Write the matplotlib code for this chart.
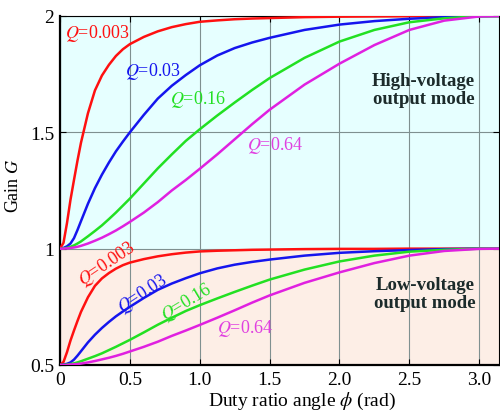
import matplotlib
matplotlib.use("Agg")
import matplotlib.pyplot as plt

plt.rcParams["font.family"] = ["Liberation Serif", "DejaVu Serif"]
plt.rcParams["mathtext.fontset"] = "stix"

# duty ratio angle (rad)
phi = [0, 0.025, 0.05, 0.075, 0.1, 0.125, 0.15, 0.2, 0.25, 0.3, 0.35, 0.4, 0.45, 0.5,
       0.6, 0.7, 0.8, 0.9, 1.0, 1.125, 1.25, 1.375, 1.5, 1.75, 2.0, 2.25, 2.5, 2.75,
       3.0, 3.1416]

# high-voltage output mode
high_q0003 = [1.0, 1.025, 1.11, 1.21, 1.295, 1.378, 1.455, 1.582, 1.68, 1.744, 1.79,
              1.828, 1.857, 1.879, 1.91, 1.934, 1.952, 1.965, 1.975, 1.981, 1.986,
              1.989, 1.991, 1.995, 1.997, 1.998, 1.999, 2.0, 2.0, 2.0]
high_q003 = [1.0, 1.003, 1.01, 1.022, 1.045, 1.08, 1.118, 1.193, 1.26, 1.318, 1.37,
             1.418, 1.46, 1.5, 1.575, 1.645, 1.70, 1.746, 1.788, 1.83, 1.862, 1.886,
             1.906, 1.94, 1.963, 1.978, 1.988, 1.995, 1.999, 2.0]
high_q016 = [1.0, 1.001, 1.003, 1.008, 1.014, 1.022, 1.031, 1.053, 1.076, 1.10, 1.127,
             1.155, 1.185, 1.215, 1.28, 1.345, 1.405, 1.463, 1.513, 1.572, 1.628,
             1.682, 1.733, 1.82, 1.89, 1.94, 1.973, 1.99, 1.999, 2.0]
high_q064 = [1.0, 1.0, 1.001, 1.003, 1.005, 1.008, 1.012, 1.022, 1.034, 1.047, 1.062,
             1.078, 1.096, 1.115, 1.155, 1.2, 1.25, 1.295, 1.343, 1.405, 1.47, 1.535,
             1.597, 1.705, 1.795, 1.875, 1.94, 1.98, 1.998, 2.0]

# low-voltage output mode
low_q0003 = [0.5, 0.513, 0.555, 0.605, 0.648, 0.689, 0.728, 0.791, 0.84, 0.872, 0.895,
             0.914, 0.929, 0.94, 0.955, 0.967, 0.976, 0.983, 0.988, 0.991, 0.993,
             0.995, 0.996, 0.998, 0.999, 0.999, 1.0, 1.0, 1.0, 1.0]
low_q003 = [0.5, 0.502, 0.505, 0.511, 0.523, 0.54, 0.559, 0.597, 0.63, 0.659, 0.685,
            0.709, 0.73, 0.75, 0.788, 0.823, 0.85, 0.873, 0.894, 0.915, 0.931, 0.943,
            0.953, 0.97, 0.982, 0.989, 0.994, 0.998, 1.0, 1.0]
low_q016 = [0.5, 0.5, 0.502, 0.504, 0.507, 0.511, 0.516, 0.527, 0.538, 0.55, 0.564,
            0.578, 0.593, 0.608, 0.64, 0.673, 0.703, 0.732, 0.757, 0.786, 0.814, 0.841,
            0.867, 0.91, 0.945, 0.97, 0.987, 0.995, 1.0, 1.0]
low_q064 = [0.5, 0.5, 0.5, 0.502, 0.503, 0.504, 0.506, 0.511, 0.517, 0.524, 0.531,
            0.539, 0.548, 0.558, 0.578, 0.6, 0.625, 0.648, 0.672, 0.703, 0.735, 0.768,
            0.799, 0.853, 0.898, 0.938, 0.97, 0.99, 0.999, 1.0]

colors = ["#ff1010", "#1515ee", "#22e022", "#e020e0"]
text_colors = ["#ff1010", "#1515ee", "#22e022", "#e040e0"]

x_ticks = [0, 0.5, 1.0, 1.5, 2.0, 2.5, 3.0]
x_tick_labels = ["0", "0.5", "1.0", "1.5", "2.0", "2.5", "3.0"]
y_ticks = [0.5, 1, 1.5, 2]
y_tick_labels = ["0.5", "1", "1.5", "2"]

fig = plt.figure(figsize=(5, 4.14), dpi=100)
ax = fig.add_axes([0.12, 0.116, 0.878, 0.843])

# background regions
ax.axhspan(1, 2, color="#e6ffff", zorder=0, lw=0)
ax.axhspan(0.5, 1, color="#fdeee6", zorder=0, lw=0)

highs = [high_q0003, high_q003, high_q016, high_q064]
lows = [low_q0003, low_q003, low_q016, low_q064]
for h, l, c in zip(highs, lows, colors):
    ax.plot(phi, h, color=c, lw=1.8, zorder=3, solid_capstyle="round",
            solid_joinstyle="round")
    ax.plot(phi, l, color=c, lw=1.8, zorder=3, solid_capstyle="round",
            solid_joinstyle="round")

ax.set_xlim(0, 3.1416)
ax.set_ylim(0.5, 2)
ax.set_xticks(x_ticks)
ax.set_xticklabels(x_tick_labels)
ax.set_yticks(y_ticks)
ax.set_yticklabels(y_tick_labels)
ax.tick_params(direction="in", length=4, width=0.8, top=True, right=True,
               labelsize=14, pad=4)
ax.grid(True, color="#7f9090", lw=0.8, zorder=1)
ax.set_axisbelow(True)

for side in ["left", "bottom"]:
    ax.spines[side].set_linewidth(1.6)
for side in ["top", "right"]:
    ax.spines[side].set_linewidth(0.8)

# curve labels, high-voltage
fs = 13
ax.text(0.036, 1.93, "$Q$=0.003", color=text_colors[0], fontsize=fs, va="center")
ax.text(0.464, 1.767, "$Q$=0.03", color=text_colors[1], fontsize=fs, va="center")
ax.text(0.79, 1.647, "$Q$=0.16", color=text_colors[2], fontsize=fs, va="center")
ax.text(1.336, 1.448, "$Q$=0.64", color=text_colors[3], fontsize=fs, va="center")

# curve labels, low-voltage
ax.text(0.336, 0.936, "$Q$=0.003", color=text_colors[0], fontsize=fs,
        ha="center", va="center", rotation=34)
ax.text(0.593, 0.811, "$Q$=0.03", color=text_colors[1], fontsize=fs,
        ha="center", va="center", rotation=33)
ax.text(0.907, 0.773, "$Q$=0.16", color=text_colors[2], fontsize=fs,
        ha="center", va="center", rotation=31)
ax.text(1.121, 0.661, "$Q$=0.64", color=text_colors[3], fontsize=fs, va="center")

ax.text(2.6, 1.685, "High-voltage\noutput mode", fontsize=13.5, fontweight="bold",
        color="#1c2b2b", ha="center", va="center", linespacing=1.05)
ax.text(2.614, 0.807, "Low-voltage\noutput mode", fontsize=13.5, fontweight="bold",
        color="#1c2b2b", ha="center", va="center", linespacing=1.05)

ax.set_xlabel(r"Duty ratio angle $\phi$ (rad)", fontsize=14)
ax.xaxis.set_label_coords(0.552, -0.072)
ax.set_ylabel("Gain $G$", fontsize=13)
ax.yaxis.set_label_coords(-0.086, 0.516)

fig.savefig("out.png", dpi=100)
